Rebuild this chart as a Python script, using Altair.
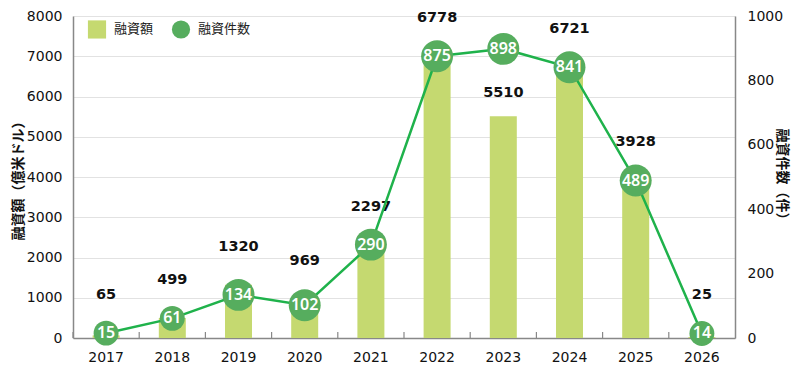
import altair as alt
import pandas as pd

years = ["2017", "2018", "2019", "2020", "2021", "2022", "2023", "2024", "2025", "2026"]
amounts = [65, 499, 1320, 969, 2297, 6778, 5510, 6721, 3928, 25]
deals = [15, 61, 134, 102, 290, 875, 898, 841, 489, 14]
series_names = ["融資額", "融資件数"]
left_ticks = [0, 1000, 2000, 3000, 4000, 5000, 6000, 7000, 8000]
right_ticks = [0, 200, 400, 600, 800, 1000]

df = pd.DataFrame({"year": years, "amount": amounts, "deals": deals})

W, H = 662, 322
BAR = "#c5d970"
DOT = "#56ad5e"
LINE = "#1fb24b"
NUM = "DejaVu Sans"
JP = "Noto Sans CJK JP"

base = alt.Chart(df)

x_axis = alt.Axis(labelAngle=0, labelFont=NUM, labelFontSize=14, labelColor="#111",
                  labelPadding=12, ticks=False, domainColor="#888", domainWidth=1.5,
                  title=None, grid=False)
x_scale = alt.Scale(paddingInner=0, paddingOuter=0)
x = alt.X("year:N", scale=x_scale, axis=x_axis, title=None)

left_axis = alt.Axis(values=left_ticks, format="d", grid=True, gridColor="#e2e2e2", gridWidth=1.2,
                     domainColor="#888", domainWidth=1.5, ticks=False,
                     labelFont=NUM, labelFontSize=14, labelColor="#111", labelPadding=11,
                     title="融資額（億米ドル）", titleFont=JP, titleFontSize=14,
                     titleFontWeight="bold", titleColor="#111", titleAngle=270,
                     titleX=-55, titleY=H / 2, titleAlign="center", titleBaseline="middle")
left_scale = alt.Scale(domain=[0, 8000])

right_axis = alt.Axis(values=right_ticks, format="d", orient="right", grid=False,
                      domainColor="#888", domainWidth=1.5, ticks=False,
                      labelFont=NUM, labelFontSize=14, labelColor="#111", labelPadding=12,
                      title="融資件数（件）", titleFont=JP, titleFontSize=14,
                      titleFontWeight="bold", titleColor="#111", titleAngle=90,
                      titleX=46, titleY=H / 2, titleAlign="center", titleBaseline="middle")
right_scale = alt.Scale(domain=[0, 1000])

legend = alt.Legend(title=None, orient="none", legendX=14, legendY=3, direction="horizontal",
                    labelFont=JP, labelFontSize=13, labelColor="#222", symbolSize=330,
                    labelOffset=7, columnPadding=14, padding=0, symbolOpacity=1)
color_enc = alt.Color("series:N", scale=alt.Scale(domain=series_names, range=[BAR, DOT]),
                      legend=legend)
shape_enc = alt.Shape("series:N", scale=alt.Scale(domain=series_names, range=["square", "circle"]),
                      legend=legend)

bars = base.transform_calculate(series="'融資額'").mark_bar(size=27).encode(
    x=x,
    y=alt.Y("amount:Q", scale=left_scale, axis=left_axis),
    color=color_enc,
)

ticks = base.mark_rule(color="#888", strokeWidth=1.2).encode(
    x=alt.X("year:N", scale=x_scale, axis=x_axis, bandPosition=0, title=None),
    y=alt.value(H - 6),
    y2=alt.value(H),
)

lab = base.transform_calculate(
    near="abs(datum.deals * 8 - datum.amount) < 1500",
).transform_calculate(
    base="datum.near ? max(datum.amount, datum.deals * 8) : datum.amount",
)
lab_near = lab.transform_filter("datum.near").mark_text(
    dy=-38, font=NUM, fontWeight="bold", fontSize=14.5, color="#111"
).encode(x=x, y=alt.Y("base:Q", scale=left_scale, axis=left_axis), text="amount:Q")
lab_far = lab.transform_filter("!datum.near").mark_text(
    dy=-23, font=NUM, fontWeight="bold", fontSize=14.5, color="#111"
).encode(x=x, y=alt.Y("base:Q", scale=left_scale, axis=left_axis), text="amount:Q")

yR = alt.Y("deals:Q", scale=right_scale, axis=right_axis)
line = base.mark_line(color=LINE, strokeWidth=2.5).encode(x=x, y=yR)
pts = base.transform_calculate(series="'融資件数'").mark_point(filled=True, opacity=1).encode(
    x=x, y=yR, color=color_enc, shape=shape_enc,
    size=alt.condition("datum.deals >= 100", alt.value(1020), alt.value(620)),
)
ptxt = base.mark_text(font="Noto Sans", fontSize=16, fontWeight=600, color="white",
                      baseline="middle").encode(x=x, y=yR, text="deals:Q")

left = alt.layer(bars, ticks, lab_near, lab_far)
right = alt.layer(line, pts, ptxt)

chart = alt.layer(left, right).resolve_scale(y="independent").properties(
    width=W, height=H,
    padding={"left": 65, "top": 8, "right": 57, "bottom": 29},
    autosize=alt.AutoSizeParams(type="none"),
).configure_view(stroke=None)

chart.save("out.html", embed_options={"renderer": "svg", "actions": False})
